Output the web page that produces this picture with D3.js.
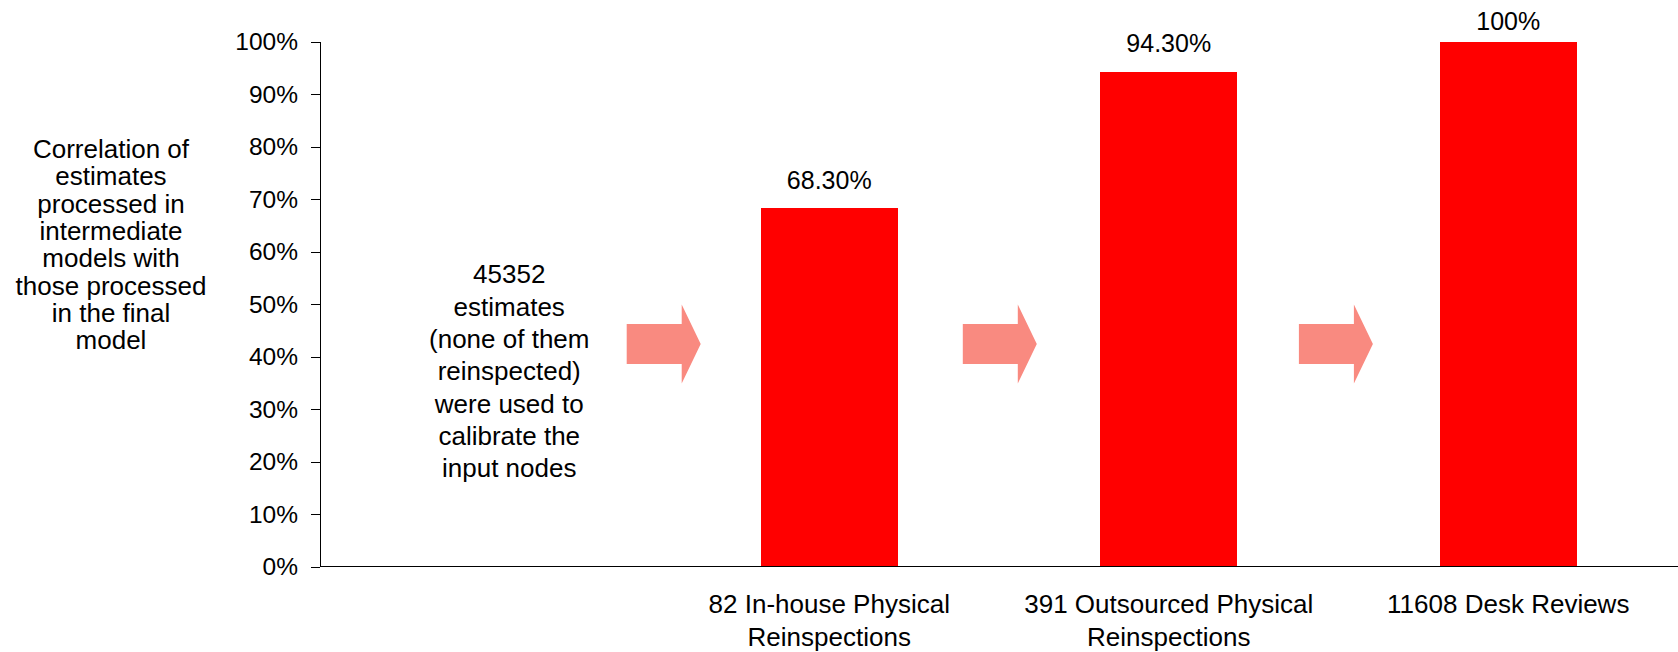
<!DOCTYPE html>
<html>
<head>
<meta charset="utf-8">
<script src="https://cdn.jsdelivr.net/npm/d3@7"></script>
<style>
  html, body { margin: 0; padding: 0; background: #fff; }
  svg { display: block; }
  text { font-family: "Liberation Sans", Arial, sans-serif; fill: #000; }
</style>
</head>
<body>
<svg id="chart" width="1678" height="652"></svg>
<script>
// ---- data ----
const categories = ["intro", "82 In-house Physical Reinspections", "391 Outsourced Physical Reinspections", "11608 Desk Reviews"];
const xLabelLines = [[], ["82 In-house Physical", "Reinspections"], ["391 Outsourced Physical", "Reinspections"], ["11608 Desk Reviews"]];
const values = [null, 68.3, 94.3, 100];
const valueLabels = ["", "68.30%", "94.30%", "100%"];
const yTicks = [0, 10, 20, 30, 40, 50, 60, 70, 80, 90, 100];
const yTitleLines = ["Correlation of", "estimates", "processed in", "intermediate", "models with", "those processed", "in the final", "model"];
const introLines = ["45352", "estimates", "(none of them", "reinspected)", "were used to", "calibrate the", "input nodes"];

(function () {
  // ---- layout ----
  const plotLeft = 320, plotRight = 1678, plotTop = 41.7, plotBottom = 566.7;
  const svg = d3.select("#chart");

  const x = d3.scaleBand().domain(categories).range([plotLeft, plotRight]).paddingInner(0.597).paddingOuter(0.2985);
  const y = d3.scaleLinear().domain([0, 100]).range([plotBottom, plotTop]);

  // y axis
  const yAxis = d3.axisLeft(y).tickValues(yTicks).tickFormat(d => d + "%").tickSize(9).tickSizeOuter(0).tickPadding(13);
  const gy = svg.append("g").attr("transform", `translate(${plotLeft},0)`).call(yAxis);
  gy.selectAll("path.domain").attr("stroke", "#000").attr("stroke-width", 1).attr("shape-rendering", "crispEdges");
  gy.selectAll(".tick line").attr("stroke", "#000").attr("shape-rendering", "crispEdges");
  gy.selectAll(".tick text").attr("font-size", "24.5px").attr("font-family", "'Liberation Sans', Arial, sans-serif").attr("fill", "#000");

  const barData = categories.map((c, i) => ({ c, v: values[i], label: valueLabels[i] })).filter(d => d.v != null);

  // bars
  svg.append("g").selectAll("rect")
    .data(barData)
    .join("rect")
    .attr("x", d => x(d.c))
    .attr("width", x.bandwidth())
    .attr("y", d => y(d.v))
    .attr("height", d => y(0) - y(d.v))
    .attr("fill", "#FF0000")
    .attr("shape-rendering", "crispEdges");

  // x axis baseline
  svg.append("line")
    .attr("x1", plotLeft).attr("x2", plotRight)
    .attr("y1", y(0)).attr("y2", y(0))
    .attr("stroke", "#000").attr("stroke-width", 1).attr("shape-rendering", "crispEdges");

  // value labels
  svg.append("g").selectAll("text")
    .data(barData)
    .join("text")
    .attr("x", d => x(d.c) + x.bandwidth() / 2)
    .attr("y", d => Math.max(y(d.v) - 19.5, 29.5))
    .attr("text-anchor", "middle")
    .attr("font-size", "25px")
    .text(d => d.label);

  // x category labels
  categories.forEach((c, i) => {
    const cx = x(c) + x.bandwidth() / 2;
    xLabelLines[i].forEach((line, j) => {
      svg.append("text")
        .attr("x", cx)
        .attr("y", 613.3 + j * 32.7)
        .attr("text-anchor", "middle")
        .attr("font-size", "26px")
        .text(line);
    });
  });

  // y title (multi-line)
  const titleG = svg.append("text").attr("text-anchor", "middle").attr("font-size", "26px");
  yTitleLines.forEach((line, j) => {
    titleG.append("tspan").attr("x", 111).attr("y", 158 + j * 27.3).text(line);
  });

  // intro text in first category column
  const introCx = x(categories[0]) + x.bandwidth() / 2 + 19.5;
  const introG = svg.append("text").attr("text-anchor", "middle").attr("font-size", "26px");
  introLines.forEach((line, j) => {
    introG.append("tspan").attr("x", introCx).attr("y", 283.3 + j * 32.3).text(line);
  });

  // arrows between columns
  const arrowNudge = [4.2, 0.8, -2.6];
  const arrowCy = y(42.4);
  for (let i = 0; i < categories.length - 1; i++) {
    const cx = plotLeft + x.step() * (i + 1) + arrowNudge[i];
    const pts = [
      [cx - 37, arrowCy - 20],
      [cx + 18, arrowCy - 20],
      [cx + 18, arrowCy - 39.5],
      [cx + 37, arrowCy],
      [cx + 18, arrowCy + 39.5],
      [cx + 18, arrowCy + 20],
      [cx - 37, arrowCy + 20]
    ];
    svg.append("polygon")
      .attr("points", pts.map(p => p.join(",")).join(" "))
      .attr("fill", "#F98A80");
  }
})();
</script>
</body>
</html>
